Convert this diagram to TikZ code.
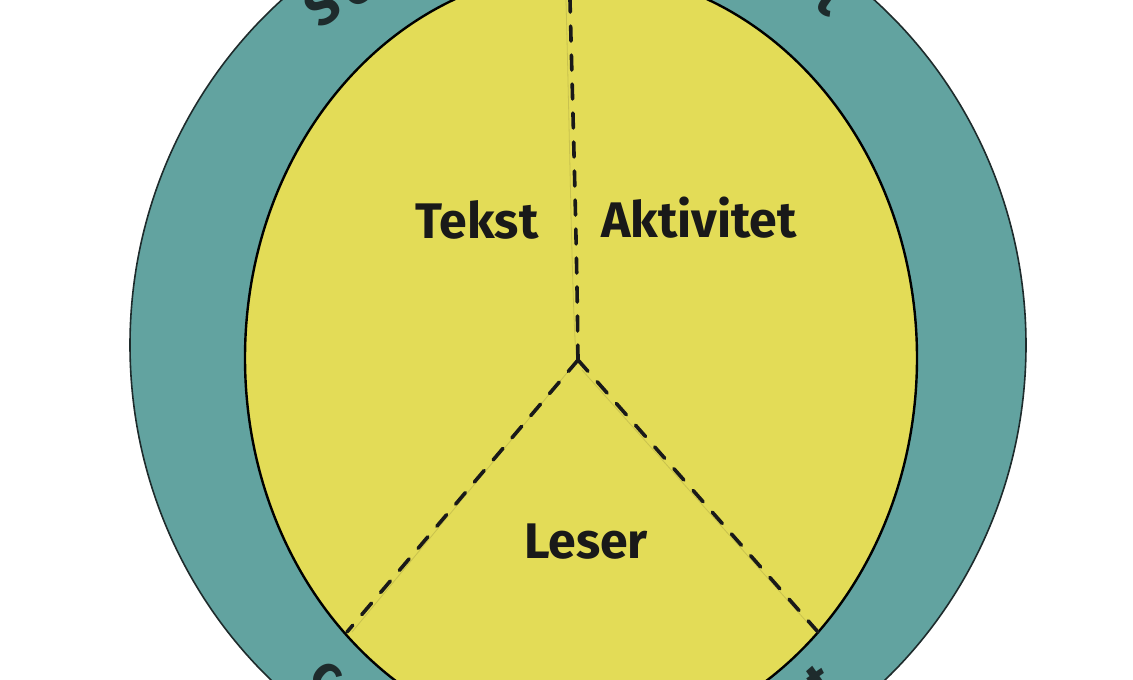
\documentclass[tikz,border=0pt]{standalone}
\usepackage{fontspec}
\setmainfont{Fira Sans}
\definecolor{teal1}{HTML}{62A3A0}
\definecolor{yel1}{HTML}{E3DC57}
\definecolor{edge1}{HTML}{1E2B2C}
\definecolor{faint1}{HTML}{C9C24E}
\begin{document}
\begin{tikzpicture}[x=1pt,y=-1pt,
  label1/.style={font=\fontsize{50}{60}\selectfont\bfseries, text=black!90, inner sep=0pt},
  ringletter/.style={font=\fontsize{52}{60}\selectfont\bfseries, text=edge1, inner sep=0pt},
  dashline/.style={line width=3.6pt, dash pattern=on 15pt off 14pt, line cap=round, black!90},
  faintline/.style={line width=0.8pt, faint1}]
\useasboundingbox (0,0) rectangle (1133,680);
\clip (0,0) rectangle (1133,680);
\fill[white] (0,0) rectangle (1133,680);
% outer ring
\draw[fill=teal1, draw=edge1, line width=1.6pt] (578,345) ellipse [x radius=448, y radius=460];
% inner disc
\draw[fill=yel1, draw=black, line width=2.4pt] (581,358) ellipse [x radius=336, y radius=387];
% sector boundaries
\coordinate (c) at (578,360);
\coordinate (top) at (570,0);
\coordinate (bl) at (347,632);
\coordinate (br) at (818,632);
\draw[faintline] (566,0) .. controls (570,150) and (572,300) .. (576,355);
\draw[faintline] (576,362) -- (352,632);
\draw[faintline] (582,370) -- (814,630);
\draw[dashline] (c) .. controls (577,250) and (573,120) .. (top);
\draw[dashline] (c) -- (bl);
\draw[dashline] (c) -- (br);
% labels
\node[label1] (tekst) at (477,220) {Tekst};
\node[label1] (akt) at (699,218) {Aktivitet};
\node[label1] (leser) at (586,542) {Leser};
% fragments of ring text
\node[ringletter, rotate=35] (s1) at (322,6) {S};
\node[ringletter, rotate=32] (o1) at (358,-10) {o};
\node[ringletter, rotate=-35] (t1) at (830,-2) {t};
\node[ringletter, rotate=-40] (c1) at (326,677) {c};
\node[ringletter, rotate=35] (t2) at (821,682) {t};
\end{tikzpicture}
\end{document}
